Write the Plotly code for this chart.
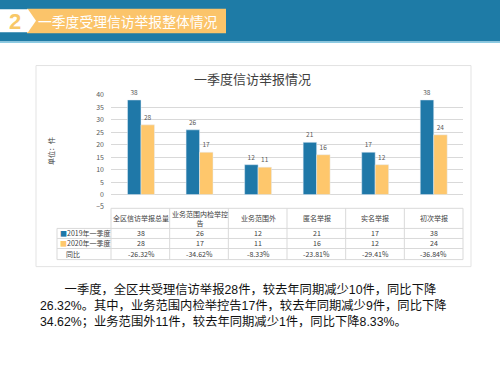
import plotly.graph_objects as go

categories = ["全区信访举报总量", "业务范围内检举控告", "业务范围外", "匿名举报", "实名举报", "初次举报"]
header_labels = ["全区信访举报总量", "业务范围内检举控<br>告", "业务范围外", "匿名举报", "实名举报", "初次举报"]
v2019 = [38, 26, 12, 21, 17, 38]
v2020 = [28, 17, 11, 16, 12, 24]
yoy = ["-26.32%", "-34.62%", "-8.33%", "-23.81%", "-29.41%", "-36.84%"]
series_names = ["2019年一季度", "2020年一季度"]
yticks = [-5, 0, 5, 10, 15, 20, 25, 30, 35, 40]
paragraph = [
    "一季度，全区共受理信访举报28件，较去年同期减少10件，同比下降",
    "26.32%。其中，业务范围内检举控告17件，较去年同期减少9件，同比下降",
    "34.62%；业务范围外11件，较去年同期减少1件，同比下降8.33%。",
]

WID, HEI = 500, 375
L, R, T, B = 111, 37, 95.3, 168.3
PW = WID - L - R
PH = HEI - T - B

def px(x):
    return (x - L) / PW

def py(y):
    return (HEI - B - y) / PH

BLUE = "#1f78a8"
YEL = "#fec76c"
FONT = "Noto Sans CJK SC"
PFONT = "Liberation Sans, Noto Sans CJK SC"
GRID = "#d9d9d9"

fig = go.Figure()
fig.add_bar(x=categories, y=v2019, name=series_names[0], marker_color=BLUE,
            text=v2019, textposition="outside", cliponaxis=False,
            textfont=dict(size=6.5, color="#595959"))
fig.add_bar(x=categories, y=v2020, name=series_names[1], marker_color=YEL,
            text=v2020, textposition="outside", cliponaxis=False,
            textfont=dict(size=6.5, color="#595959"))

shapes = []
annotations = []

# header bar
shapes.append(dict(type="rect", xref="paper", yref="paper", x0=px(0), x1=px(500), y0=py(0), y1=py(42),
                   fillcolor="#1e7ba6", line_width=0, layer="below"))
shapes.append(dict(type="rect", xref="paper", yref="paper", x0=px(0), x1=px(500), y0=py(42), y1=py(43.5),
                   fillcolor="#8ccbe3", line_width=0, layer="below"))
shapes.append(dict(type="rect", xref="paper", yref="paper", x0=px(27), x1=px(226), y0=py(9.5), y1=py(34),
                   fillcolor="#fbc46a", line_width=0, layer="below"))
def pth(pts):
    return "M " + " L ".join(f"{px(a)},{py(b)}" for a, b in pts) + " Z"
shapes.append(dict(type="path", xref="paper", yref="paper",
                   path=pth([(0, 10), (28, 10), (36, 21.5), (28, 33), (0, 33)]),
                   fillcolor="#ffffff", line_width=0, layer="below"))
annotations.append(dict(xref="paper", yref="paper", x=px(15), y=py(22), text="<b>2</b>", showarrow=False,
                        font=dict(size=22, color="#f8c868", family="Arial"), xanchor="center", yanchor="middle"))
annotations.append(dict(xref="paper", yref="paper", x=px(36), y=py(22), text="一季度受理信访举报整体情况",
                        showarrow=False, font=dict(size=13.8, color="#ffffff", family=FONT),
                        xanchor="left", yanchor="middle"))

# chart frame
shapes.append(dict(type="rect", xref="paper", yref="paper", x0=px(36), x1=px(471), y0=py(66), y1=py(266),
                   fillcolor="rgba(0,0,0,0)", line=dict(color="#e3e3e3", width=1), layer="below"))
annotations.append(dict(xref="paper", yref="paper", x=px(252), y=py(79), text="一季度信访举报情况",
                        showarrow=False, font=dict(size=13, color="#404040", family=FONT),
                        xanchor="center", yanchor="middle"))
annotations.append(dict(xref="paper", yref="paper", x=px(51), y=py(151), text="单位：件", textangle=-90,
                        showarrow=False, font=dict(size=7, color="#404040", family=FONT),
                        xanchor="center", yanchor="middle"))

# table
rows_y = [208, 228, 238, 248, 259]
line = dict(color=GRID, width=1)
shapes.append(dict(type="line", xref="paper", yref="paper", x0=px(111), x1=px(463), y0=py(208), y1=py(208), line=line))
for yy in rows_y[1:]:
    shapes.append(dict(type="line", xref="paper", yref="paper", x0=px(57), x1=px(463), y0=py(yy), y1=py(yy), line=line))
shapes.append(dict(type="line", xref="paper", yref="paper", x0=px(57), x1=px(57), y0=py(228), y1=py(259), line=line))
for i in range(len(categories) + 1):
    xx = 111 + i * PW / len(categories)
    shapes.append(dict(type="line", xref="paper", yref="paper", x0=px(xx), x1=px(xx), y0=py(208), y1=py(259), line=line))

cell_font = dict(size=7, color="#404040", family=FONT)
for i, c in enumerate(categories):
    annotations.append(dict(xref="x", yref="paper", x=c, y=py(218), text=header_labels[i], showarrow=False,
                            font=cell_font, xanchor="center", yanchor="middle"))
    annotations.append(dict(xref="x", yref="paper", x=c, y=py(233), text=str(v2019[i]), showarrow=False,
                            font=cell_font, xanchor="center", yanchor="middle"))
    annotations.append(dict(xref="x", yref="paper", x=c, y=py(243), text=str(v2020[i]), showarrow=False,
                            font=cell_font, xanchor="center", yanchor="middle"))
    annotations.append(dict(xref="x", yref="paper", x=c, y=py(253.5), text=yoy[i], showarrow=False,
                            font=cell_font, xanchor="center", yanchor="middle"))
annotations.append(dict(xref="paper", yref="paper", x=px(58), y=py(233),
                        text=f"<span style='color:{BLUE}'>■</span>{series_names[0]}", showarrow=False,
                        font=cell_font, xanchor="left", yanchor="middle"))
annotations.append(dict(xref="paper", yref="paper", x=px(58), y=py(243),
                        text=f"<span style='color:{YEL}'>■</span>{series_names[1]}", showarrow=False,
                        font=cell_font, xanchor="left", yanchor="middle"))
annotations.append(dict(xref="paper", yref="paper", x=px(64), y=py(253.5), text="同比", showarrow=False,
                        font=cell_font, xanchor="left", yanchor="middle"))

# paragraph (one text block, first line indented)
para_text = "\u3000\u3000" + "<br>".join(paragraph)
annotations.append(dict(xref="paper", yref="paper", x=px(38), y=py(279), text=para_text, showarrow=False,
                        align="left", font=dict(size=12.3, color="#111111", family=PFONT),
                        xanchor="left", yanchor="top"))

fig.update_layout(
    width=WID, height=HEI, margin=dict(l=L, r=R, t=T, b=B, autoexpand=False),
    paper_bgcolor="white", plot_bgcolor="white", showlegend=False,
    barmode="group", bargap=0.54, bargroupgap=0,
    font=dict(family=FONT),
    shapes=shapes, annotations=annotations,
)
fig.update_xaxes(showticklabels=False, showgrid=False, showline=False, zeroline=False, ticks="")
fig.update_yaxes(range=[-5, 40], tickvals=yticks, showgrid=True, gridcolor=GRID, gridwidth=1,
                 zeroline=False, showline=False, ticks="", ticklabelstandoff=6,
                 tickfont=dict(size=7, color="#595959", family=FONT))

fig.write_html("out.html", config={"displayModeBar": False},
               post_script="document.body.style.margin='0';document.body.style.overflow='hidden';")
